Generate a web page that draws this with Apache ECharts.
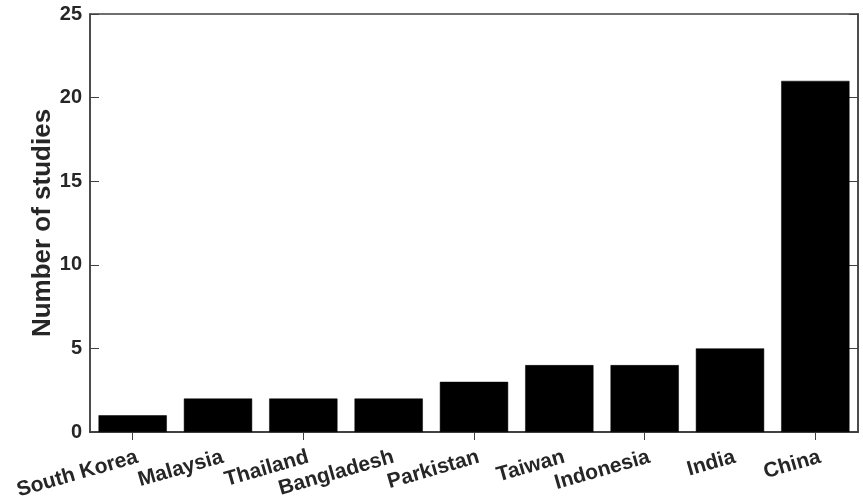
<!DOCTYPE html>
<html><head><meta charset="utf-8">
<script src="https://cdn.jsdelivr.net/npm/echarts@6/dist/echarts.min.js"></script>
<style>html,body{margin:0;padding:0;background:#fff}#c{width:863px;height:500px}</style>
</head><body><div id="c"></div>
<script>
const categories = ['South Korea','Malaysia','Thailand','Bangladesh','Parkistan','Taiwan','Indonesia','India','China'];
const studies = [1,2,2,2,3,4,4,5,21];
const yTicks = [0,5,10,15,20,25];
const yAxisTitle = 'Number of studies';

const font = '"Liberation Sans", Arial, Helvetica, sans-serif';
const axisColor = '#404040';
const textColor = '#262626';
const chart = echarts.init(document.getElementById('c'), null, {renderer:'canvas'});
chart.setOption({
  animation:false,
  grid:{left:90,right:5,top:14,bottom:68,show:true,borderColor:axisColor,borderWidth:1.5,backgroundColor:'#fff',
    containLabel:false,outerBoundsMode:'none'},
  xAxis:[{
    type:'category',data:categories,position:'bottom',
    axisLine:{show:true,lineStyle:{color:axisColor,width:1.5}},
    axisTick:{show:true,inside:true,length:8,alignWithLabel:true,lineStyle:{color:axisColor}},
    axisLabel:{rotate:16,interval:0,margin:26,color:textColor,fontFamily:font,fontWeight:'bold',fontSize:21,
      padding:[0,-5,0,0]}
  },{
    type:'category',data:categories,position:'top',
    axisLine:{show:true,lineStyle:{color:axisColor,width:1.5}},
    axisTick:{show:true,inside:true,length:8,alignWithLabel:true,lineStyle:{color:axisColor}},
    axisLabel:{show:false}
  }],
  yAxis:[{
    type:'value',min:0,max:25,interval:5,position:'left',
    name:yAxisTitle,nameLocation:'middle',nameGap:34,nameRotate:90,nameMoveOverlap:false,
    nameTextStyle:{color:textColor,fontFamily:font,fontWeight:'bold',fontSize:26},
    axisLine:{show:true,lineStyle:{color:axisColor,width:1.5}},
    axisTick:{show:true,inside:true,length:9,lineStyle:{color:axisColor}},
    axisLabel:{color:textColor,fontFamily:font,fontWeight:'bold',fontSize:20,margin:8,
      formatter:v=>yTicks.includes(v)?String(v):''},
    splitLine:{show:false}
  },{
    type:'value',min:0,max:25,interval:5,position:'right',
    axisLine:{show:true,lineStyle:{color:axisColor,width:1.5}},
    axisTick:{show:true,inside:true,length:9,lineStyle:{color:axisColor}},
    axisLabel:{show:false},splitLine:{show:false}
  }],
  series:[{
    type:'bar',data:studies,xAxisIndex:0,yAxisIndex:0,barCategoryGap:'20%',
    itemStyle:{color:'#000',borderColor:'#000',borderWidth:0.5},z:1
  }]
});
</script></body></html>
